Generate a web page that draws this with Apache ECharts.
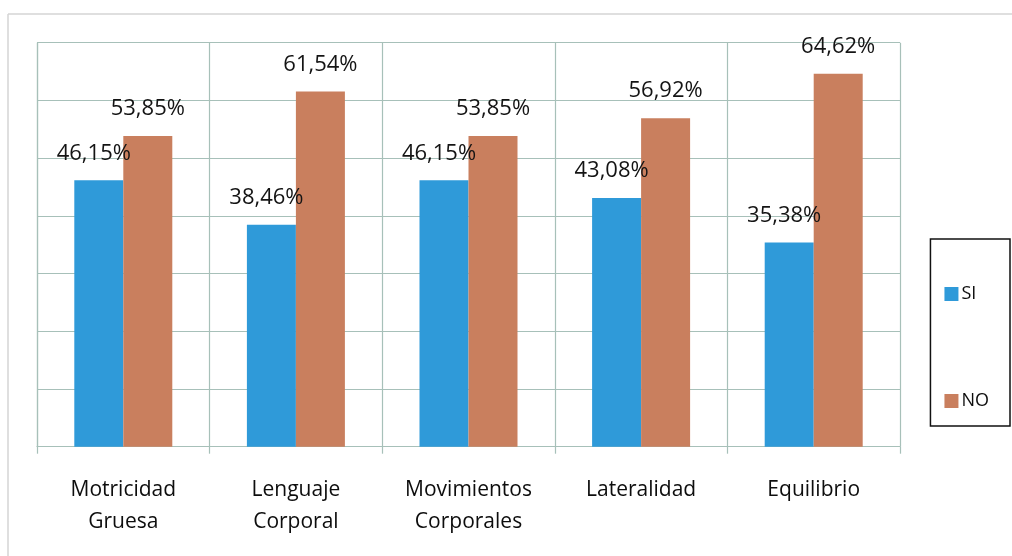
<!DOCTYPE html>
<html>
<head>
<meta charset="utf-8">
<script src="https://cdn.jsdelivr.net/npm/echarts@6/dist/echarts.min.js"></script>
<style>
  html, body { margin: 0; padding: 0; background: #fff; }
  #chart { width: 1012px; height: 556px; }
</style>
</head>
<body>
<div id="chart"></div>
<script>
const categories = ['Motricidad\nGruesa', 'Lenguaje\nCorporal', 'Movimientos\nCorporales', 'Lateralidad', 'Equilibrio']
const siValues = [46.15, 38.46, 46.15, 43.08, 35.38]
const noValues = [53.85, 61.54, 53.85, 56.92, 64.62]

const FONT = 'Open Sans'
const gridColor = '#a7c0b9'

function pct(p) {
  return p.value.toFixed(2).replace('.', ',') + '%'
}

const chart = echarts.init(document.getElementById('chart'))
chart.setOption({
  backgroundColor: '#fff',
  animation: false,
  textStyle: { fontFamily: FONT },
  graphic: [
    // outer frame lines (top + left)
    { type: 'line', shape: { x1: 8, y1: 14, x2: 1012, y2: 14 }, style: { stroke: '#d4d4d4', lineWidth: 1.5 } },
    { type: 'line', shape: { x1: 8, y1: 14, x2: 8, y2: 556 }, style: { stroke: '#d4d4d4', lineWidth: 1.5 } }
  ],
  grid: {
    left: 37,
    right: 112,
    top: 42.7,
    bottom: 109.3
  },
  legend: {
    orient: 'vertical',
    right: 2,
    top: 239,
    itemWidth: 14,
    itemHeight: 14,
    itemGap: 89,
    padding: [46, 21, 16, 14],
    borderColor: '#111',
    borderWidth: 1.5,
    icon: 'rect',
    textStyle: { fontFamily: FONT, fontSize: 18, color: '#0d0d0d', padding: [0, 0, 0, -2] },
    data: ['SI', 'NO']
  },
  xAxis: {
    type: 'category',
    data: categories,
    axisLine: { lineStyle: { color: gridColor, width: 1.2 } },
    axisTick: { show: true, length: 7, lineStyle: { color: gridColor, width: 1.2 } },
    splitLine: { show: true, interval: 0, lineStyle: { color: gridColor, width: 1.2 } },
    axisLabel: {
      interval: 0,
      margin: 27,
      fontFamily: FONT,
      fontSize: 21,
      lineHeight: 32,
      color: '#0d0d0d'
    }
  },
  yAxis: {
    type: 'value',
    min: 0,
    max: 70,
    interval: 10,
    axisLine: { show: true, lineStyle: { color: gridColor, width: 1.2 } },
    axisTick: { show: false },
    axisLabel: { show: false },
    splitLine: { show: true, lineStyle: { color: gridColor, width: 1.2 } }
  },
  series: [
    {
      name: 'SI',
      type: 'bar',
      data: siValues,
      barWidth: 49,
      barGap: '0%',
      itemStyle: { color: '#2f9ad9' },
      label: {
        show: true,
        position: 'top',
        distance: 16,
        offset: [-5, 0],
        fontFamily: FONT,
        fontSize: 22,
        color: '#141414',
        formatter: pct
      }
    },
    {
      name: 'NO',
      type: 'bar',
      data: noValues,
      barWidth: 49,
      barGap: '0%',
      itemStyle: { color: '#c97f5e' },
      label: {
        show: true,
        position: 'top',
        distance: 16,
        fontFamily: FONT,
        fontSize: 22,
        color: '#141414',
        formatter: pct
      }
    }
  ]
})
</script>
</body>
</html>
